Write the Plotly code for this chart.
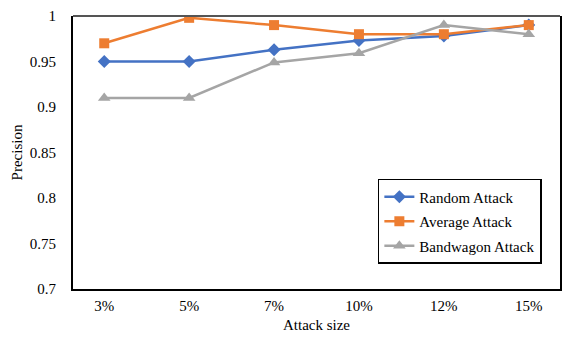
import plotly.graph_objects as go

attack_sizes = ["3%", "5%", "7%", "10%", "12%", "15%"]
random_attack = [0.950, 0.950, 0.963, 0.973, 0.978, 0.990]
average_attack = [0.970, 0.998, 0.990, 0.980, 0.980, 0.990]
bandwagon_attack = [0.910, 0.910, 0.949, 0.959, 0.990, 0.980]

font = "Liberation Serif, Times New Roman, serif"

fig = go.Figure()
series = [
    ("Random Attack", random_attack, "#4472C4", "diamond", 10),
    ("Average Attack", average_attack, "#ED7D31", "square", 10),
    ("Bandwagon Attack", bandwagon_attack, "#A5A5A5", "triangle-up", 11),
]
for name, vals, color, symbol, size in series:
    fig.add_trace(go.Scatter(
        x=attack_sizes, y=vals, name=name, mode="lines+markers",
        legendgroup=name,
        line=dict(color=color, width=2.5),
        marker=dict(symbol=symbol, size=size, color=color),
    ))

fig.update_layout(
    width=583, height=342,
    margin=dict(l=73, r=23, t=16, b=53),
    paper_bgcolor="white", plot_bgcolor="white",
    font=dict(family=font, size=15, color="black"),
    showlegend=True,
    legend=dict(
        x=0.626, y=0.403, xanchor="left", yanchor="top",
        bgcolor="white", bordercolor="black", borderwidth=1.5,
        font=dict(family=font, size=15),
        tracegroupgap=2,
    ),
    shapes=[dict(type="line", xref="paper", yref="paper", x0=0, x1=1, y0=1, y1=1,
                 line=dict(color="#555555", width=2))],
)
fig.update_xaxes(
    title=dict(text="Attack size", standoff=6, font=dict(size=15)),
    showline=True, linecolor="black", linewidth=2, mirror=False,
    showgrid=False, ticks="", ticklabelstandoff=2, automargin=False,
    tickfont=dict(family=font, size=15),
)
fig.update_yaxes(
    title=dict(text="Precision", standoff=4, font=dict(size=15)),
    range=[0.7, 1.0], dtick=0.05, tick0=0.7,
    showline=True, linecolor="black", linewidth=2, mirror=True,
    showgrid=False, zeroline=False, ticks="", ticklabelstandoff=12,
    automargin=False, tickfont=dict(family=font, size=15),
)

# page body has a default margin; drop it so the figure sits at the corner
fig.write_html("out.html", config={"displayModeBar": False},
               post_script="document.body.style.margin='0';")
